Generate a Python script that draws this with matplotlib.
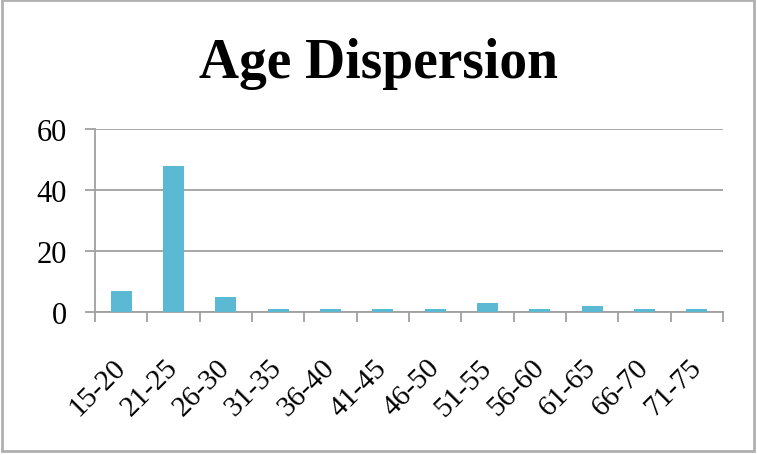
import matplotlib.pyplot as plt
from matplotlib.patches import Rectangle
import numpy as np

categories = ['15-20', '21-25', '26-30', '31-35', '36-40', '41-45',
              '46-50', '51-55', '56-60', '61-65', '66-70', '71-75']
counts = [7, 48, 5, 1, 1, 1, 1, 3, 1, 2, 1, 1]
y_ticks = [0, 20, 40, 60]

bar_color = '#5BB9D3'
grid_color = '#a0a0a0'

plt.rcParams['font.family'] = ['Liberation Serif', 'DejaVu Serif']

fig = plt.figure(figsize=(7.57, 4.56), dpi=100)
ax = fig.add_axes([95 / 757, 1 - 313 / 456, 628 / 757, 183 / 456])

x = np.arange(len(categories))
ax.bar(x, counts, width=0.4, color=bar_color, zorder=3)

ax.set_xlim(-0.5, len(categories) - 0.5)
ax.set_ylim(0, 60)
ax.set_yticks(y_ticks)
ax.set_yticklabels([str(v) for v in y_ticks], fontsize=22)
ax.yaxis.grid(True, color=grid_color, linewidth=1.3, zorder=0)

# category labels at centres, tick marks on boundaries
ax.set_xticks(x)
ax.set_xticklabels(categories, fontsize=21, rotation=45, ha='right',
                   va='center', rotation_mode='anchor')
ax.tick_params(axis='x', which='major', length=0, pad=37)
ax.set_xticks(np.arange(-0.5, len(categories)), minor=True)
ax.tick_params(axis='x', which='minor', length=7, width=1.3, color=grid_color)
ax.tick_params(axis='y', length=7, width=1.3, color=grid_color, pad=13)

for side in ['top', 'right']:
    ax.spines[side].set_visible(False)
for side in ['left', 'bottom']:
    ax.spines[side].set_color(grid_color)
    ax.spines[side].set_linewidth(1.3)

fig.text(0.5, 1 - 64 / 456, 'Age Dispersion', ha='center', va='center',
         fontsize=40, fontweight='bold')

fig.patches.append(Rectangle((0.002, 0.008), 0.994, 0.99, transform=fig.transFigure,
                             fill=False, edgecolor='#b0b0b0', linewidth=2))

fig.savefig('out.png', dpi=100)
